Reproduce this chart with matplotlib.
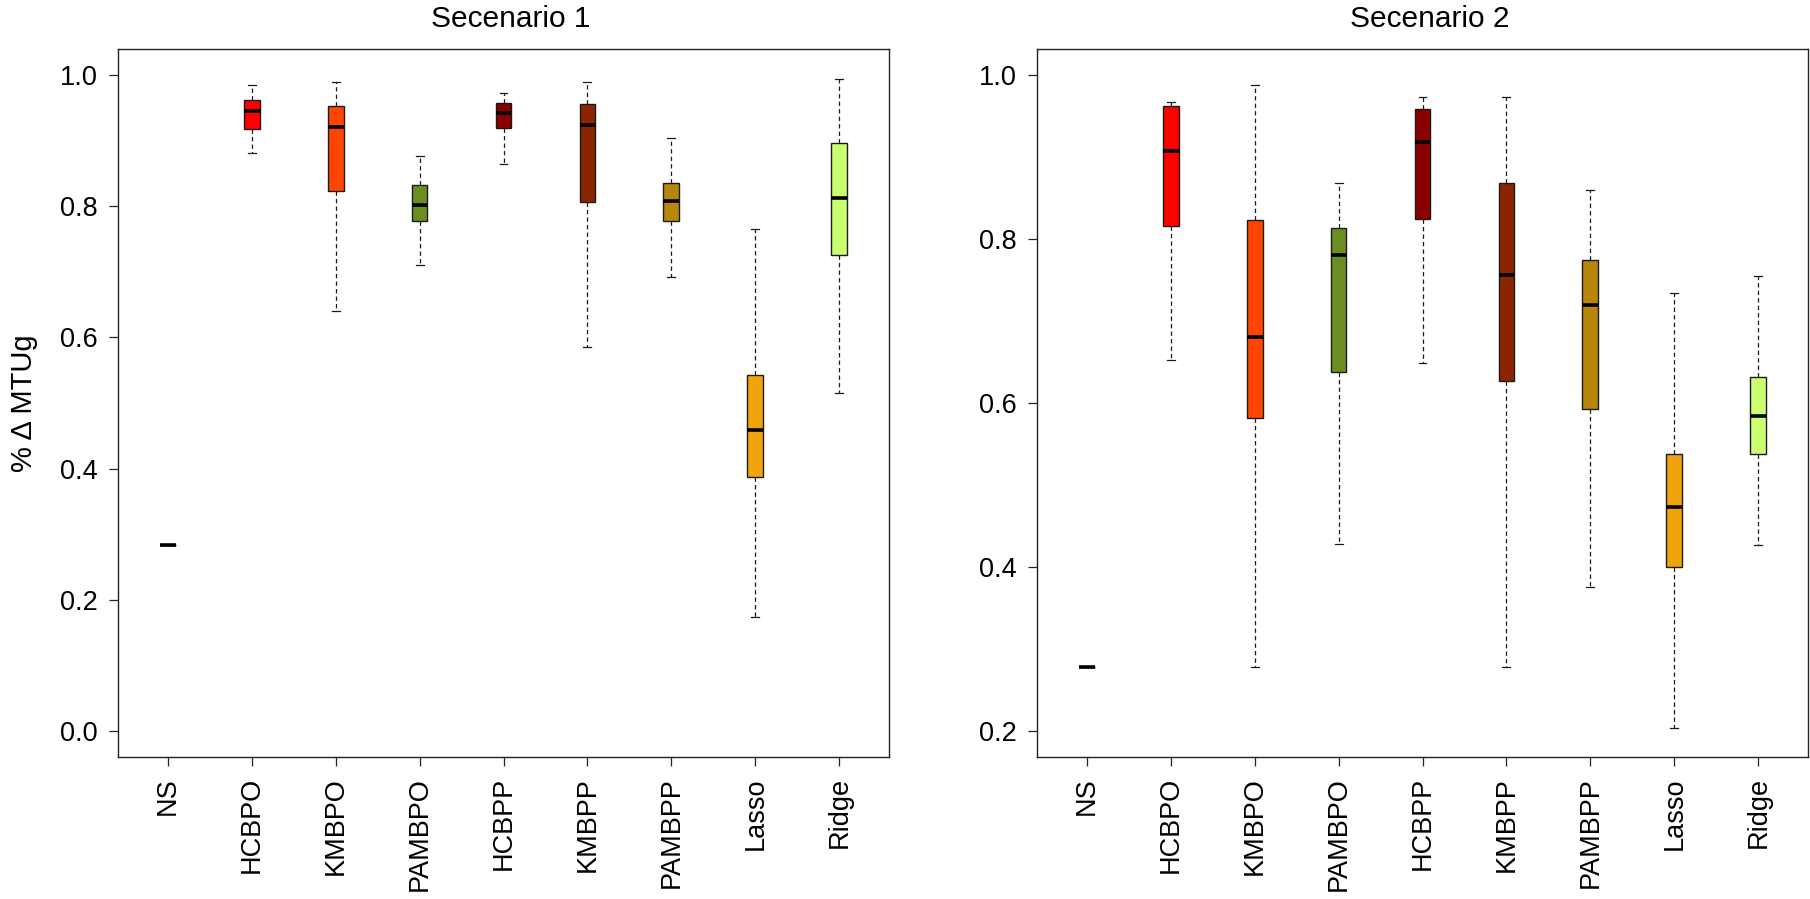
import matplotlib
matplotlib.use("Agg")
import matplotlib.pyplot as plt

plt.rcParams['font.family'] = ['Liberation Sans', 'DejaVu Sans']

methods = ["NS", "HCBPO", "KMBPO", "PAMBPO", "HCBPP", "KMBPP", "PAMBPP", "Lasso", "Ridge"]
colors = ["#000000", "#FF0000", "#FF4500", "#6B8E23", "#8B0000", "#8B2500", "#B8860B", "#F0A30A", "#CAFF70"]

# Scenario 1: lower whisker, Q1, median, Q3, upper whisker
s1_low = [0.284, 0.881, 0.641, 0.711, 0.865, 0.585, 0.692, 0.173, 0.516]
s1_q1  = [0.284, 0.918, 0.824, 0.777, 0.919, 0.806, 0.777, 0.387, 0.726]
s1_med = [0.284, 0.945, 0.921, 0.802, 0.943, 0.924, 0.808, 0.459, 0.813]
s1_q3  = [0.284, 0.962, 0.953, 0.833, 0.958, 0.956, 0.836, 0.542, 0.896]
s1_high = [0.284, 0.985, 0.990, 0.877, 0.973, 0.990, 0.905, 0.765, 0.995]

# Scenario 2
s2_low = [0.278, 0.652, 0.278, 0.428, 0.649, 0.278, 0.376, 0.203, 0.427]
s2_q1  = [0.278, 0.816, 0.582, 0.638, 0.825, 0.627, 0.593, 0.400, 0.538]
s2_med = [0.278, 0.908, 0.680, 0.780, 0.919, 0.756, 0.719, 0.473, 0.584]
s2_q3  = [0.278, 0.962, 0.823, 0.814, 0.959, 0.868, 0.774, 0.538, 0.632]
s2_high = [0.278, 0.967, 0.988, 0.869, 0.973, 0.973, 0.860, 0.734, 0.755]

titles = ["Secenario 1", "Secenario 2"]
yticks1 = [0.0, 0.2, 0.4, 0.6, 0.8, 1.0]
yticks2 = [0.2, 0.4, 0.6, 0.8, 1.0]
ylabel = "% \u0394 MTUg"

W, H = 1810, 899
fig = plt.figure(figsize=(W / 100, H / 100), dpi=100)

panels = [
    (118, (s1_low, s1_q1, s1_med, s1_q3, s1_high), (-0.04, 1.04), yticks1),
    (1037, (s2_low, s2_q1, s2_med, s2_q3, s2_high), (0.168, 1.032), yticks2),
]

for i, (x0, (lo, q1, med, q3, hi), ylim, yt) in enumerate(panels):
    ax = fig.add_axes([x0 / W, 1 - 757 / H, 771 / W, 708 / H])
    stats = []
    for j in range(len(methods)):
        stats.append(dict(whislo=lo[j], q1=q1[j], med=med[j], q3=q3[j], whishi=hi[j], fliers=[]))
    positions = list(range(1, len(methods) + 1))
    bp = ax.bxp(stats, positions=positions, widths=0.19, capwidths=0.095,
                patch_artist=True, showfliers=False,
                boxprops=dict(edgecolor="#1a1a1a", linewidth=1.0),
                whiskerprops=dict(color="#1a1a1a", linewidth=0.9, linestyle=(0, (3.5, 2.5))),
                capprops=dict(color="#1a1a1a", linewidth=0.9),
                medianprops=dict(color="black", linewidth=2.6, solid_capstyle="butt"))
    for patch, c in zip(bp["boxes"], colors):
        patch.set_facecolor(c)
    ax.set_xlim(0.41, 9.59)
    ax.set_ylim(*ylim)
    ax.set_yticks(yt)
    ax.set_yticklabels([f"{v:.1f}" for v in yt])
    ax.set_xticks(positions)
    ax.set_xticklabels(methods, rotation=90, va="top", ha="center")
    ax.tick_params(axis="both", labelsize=19.5, length=6.5, width=0.9, pad=8, color="#222222")
    for sp in ax.spines.values():
        sp.set_linewidth(1.0)
        sp.set_color("#222222")
    ax.text(0.51, 1 + (49 - 19) / 708, titles[i], transform=ax.transAxes,
            ha="center", va="center", fontsize=21.5)
    if i == 0:
        fig.text(24 / W, 1 - 403 / H, ylabel, rotation=90, ha="center", va="center", fontsize=21)

fig.savefig("out.png", dpi=100, facecolor="white")
